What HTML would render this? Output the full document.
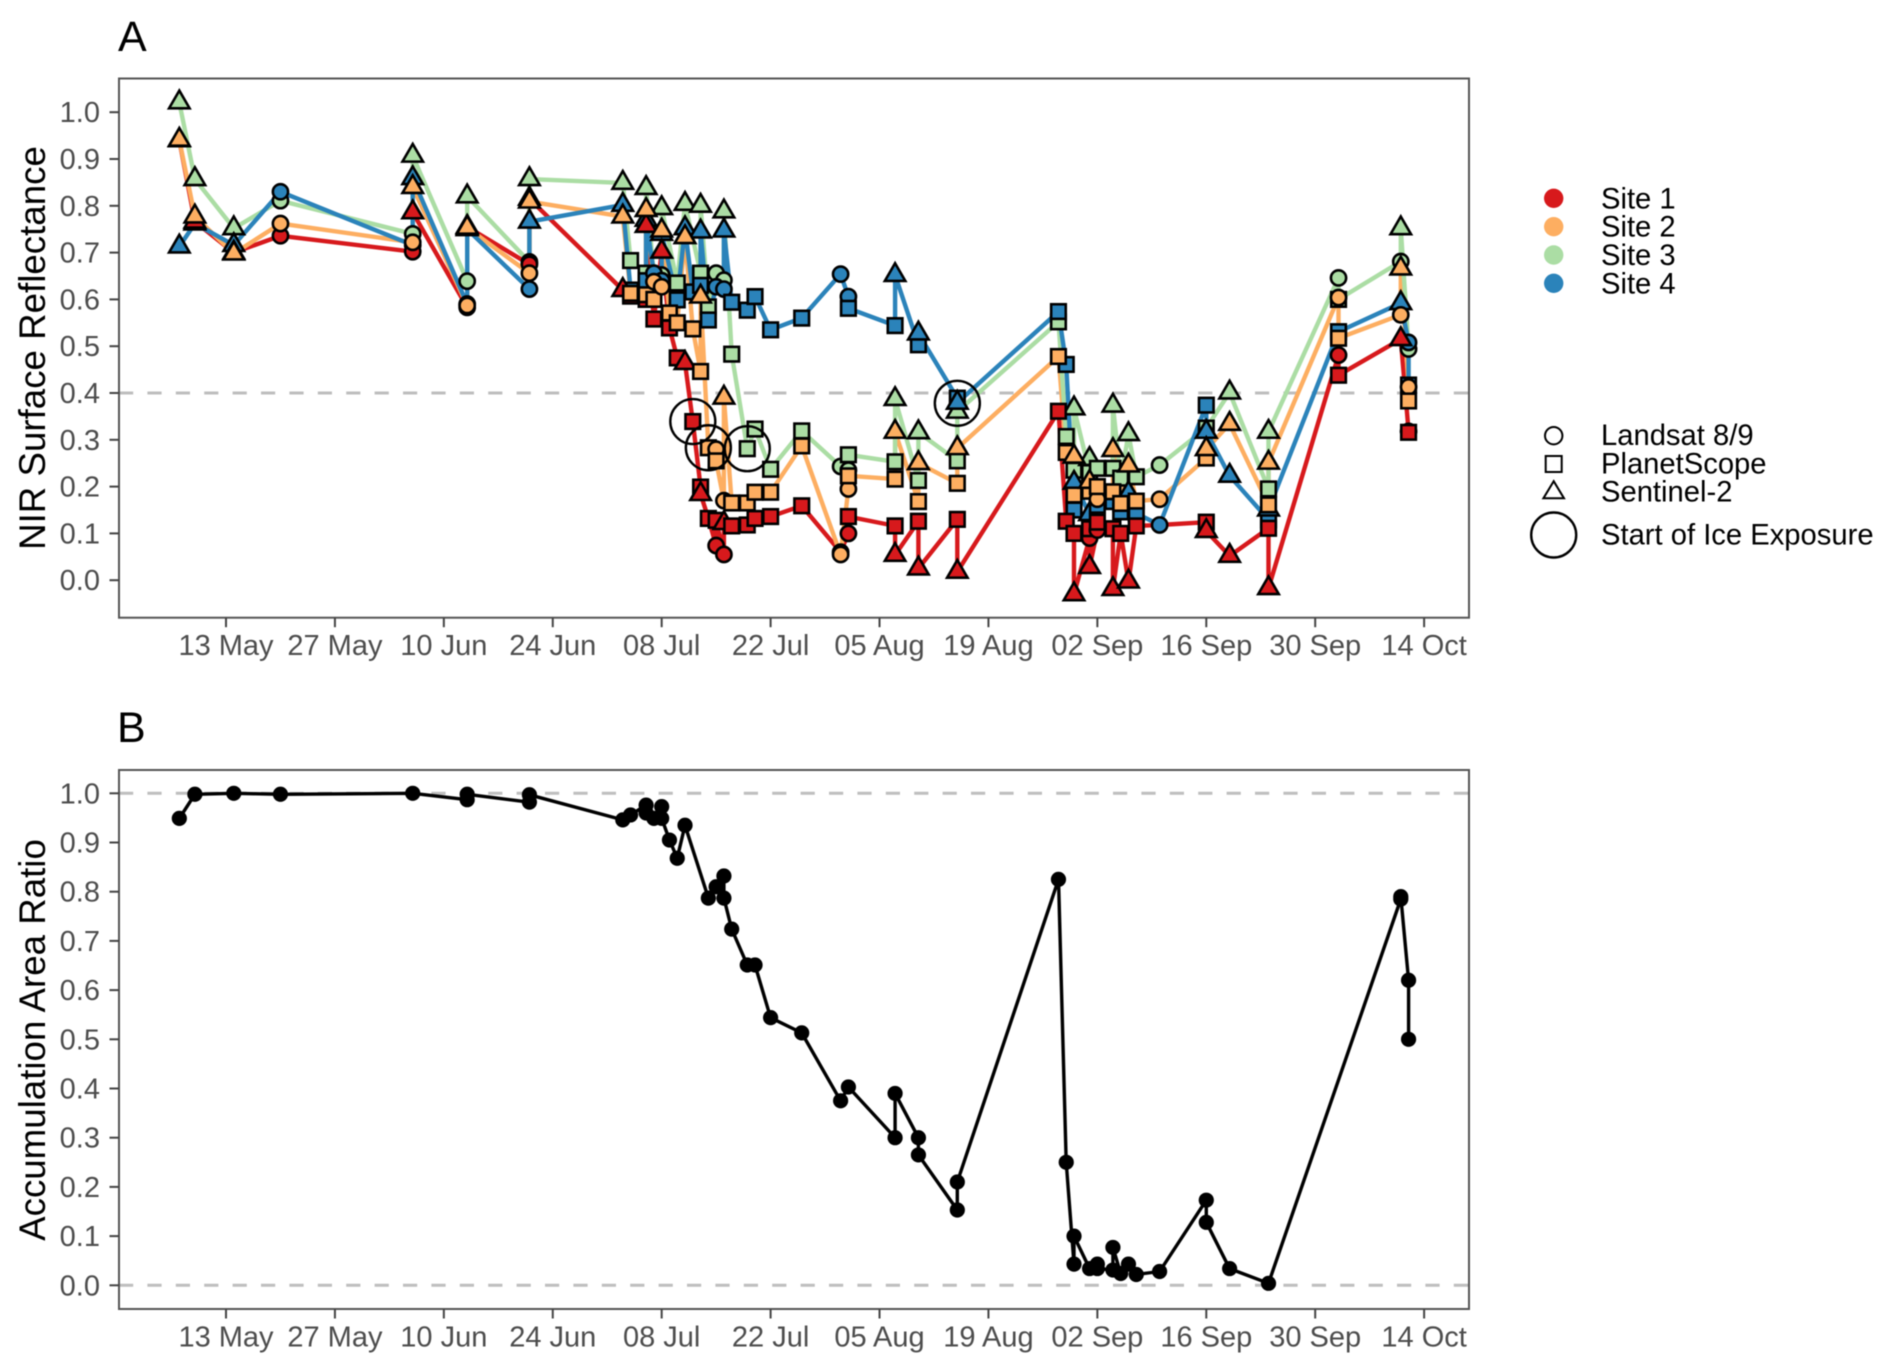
<!DOCTYPE html>
<html lang="en">
<head>
<meta charset="utf-8">
<title>NIR Surface Reflectance and Accumulation Area Ratio</title>
<style>
html,body{margin:0;padding:0;background:#fff;}
svg{display:block;font-family:"Liberation Sans",Arial,sans-serif;filter:blur(0.4px);}
.tick{font-size:29px;fill:#4d4d4d;}
.axis-title{font-size:36.7px;fill:#000;}
.tag{font-size:43px;fill:#000;}
.legend{font-size:29.2px;fill:#000;}
</style>
</head>
<body>
<svg id="chart" xmlns="http://www.w3.org/2000/svg" width="1892" height="1372" viewBox="0 0 1892 1372">
  <rect x="0" y="0" width="1892" height="1372" fill="#fff"/>
  <text class="tag" x="118" y="51">A</text>
  <text class="tag" x="117" y="742">B</text>
  <text class="axis-title" transform="translate(45,348) rotate(-90)" text-anchor="middle">NIR Surface Reflectance</text>
  <text class="axis-title" transform="translate(45,1040) rotate(-90)" text-anchor="middle">Accumulation Area Ratio</text>
  <g id="panelA"></g>
  <g id="panelB"></g>
  <g>
    <g><circle cx="1553.7" cy="198.3" r="9.7" fill="#D7191C"/><text class="legend" x="1601" y="208.3">Site 1</text></g>
    <g><circle cx="1553.7" cy="226.7" r="9.7" fill="#FDAE61"/><text class="legend" x="1601" y="236.7">Site 2</text></g>
    <g><circle cx="1553.7" cy="255" r="9.7" fill="#ABDDA4"/><text class="legend" x="1601" y="265">Site 3</text></g>
    <g><circle cx="1553.7" cy="283.3" r="9.7" fill="#2B83BA"/><text class="legend" x="1601" y="293.3">Site 4</text></g>
  </g>
  <g>
    <g><circle cx="1553.7" cy="435.7" r="8.7" fill="none" stroke="#000" stroke-width="2"/><text class="legend" x="1601" y="445">Landsat 8/9</text></g>
    <g><rect x="1545.7" y="456" width="16" height="16" fill="none" stroke="#000" stroke-width="2"/><text class="legend" x="1601" y="473.3">PlanetScope</text></g>
    <g><path d="M1553.7 481.2 L1564 498.3 L1543.4 498.3 Z" fill="none" stroke="#000" stroke-width="2"/><text class="legend" x="1601" y="501.7">Sentinel-2</text></g>
    <g><circle cx="1553.7" cy="535" r="22.5" fill="none" stroke="#000" stroke-width="2.4"/><text class="legend" x="1601" y="544.3">Start of Ice Exposure</text></g>
  </g>
</svg>
<script>
// Days are counted from 13 May. Sensors: L Landsat 8/9, P PlanetScope, S Sentinel-2,
// H = Landsat observation fully hidden beneath another marker (line vertex only).
const tickDays = [0,14,28,42,56,70,84,98,112,126,140,154];
const tickLabels = ["13 May","27 May","10 Jun","24 Jun","08 Jul","22 Jul","05 Aug","19 Aug","02 Sep","16 Sep","30 Sep","14 Oct"];
const yTicks = [0,0.1,0.2,0.3,0.4,0.5,0.6,0.7,0.8,0.9,1.0];

const site1Days = [-6,-4,1,7,24,24,31,31,39,39,51,52,54,54,55,56,57,58,59,60,61,61,62,63,63,64,64,65,67,68,70,74,79,80,80,86,86,89,89,94,94,107,108,109,109,111,111,111,112,112,114,114,115,116,117,120,126,126,129,134,134,143,143,151,152,152];
const site1Sensors = ["S","S","S","L","L","S","L","S","L","S","S","P","P","S","P","S","P","P","S","P","P","S","P","L","P","L","S","P","P","P","P","P","L","L","P","P","S","P","S","P","S","P","P","P","S","L","P","S","L","P","P","S","P","S","P","H","P","S","S","P","S","L","P","S","L","P"];
const site1Values = [0.94,0.766,0.70,0.736,0.702,0.786,0.583,0.755,0.675,0.815,0.62,0.607,0.60,0.757,0.558,0.702,0.539,0.475,0.464,0.339,0.199,0.184,0.132,0.074,0.128,0.055,0.122,0.116,0.118,0.132,0.136,0.159,0.06,0.10,0.136,0.116,0.054,0.126,0.025,0.13,0.018,0.361,0.126,0.10,-0.03,0.09,0.11,0.028,0.107,0.124,0.11,-0.019,0.10,-0.003,0.116,0.118,0.124,0.105,0.052,0.111,-0.017,0.481,0.438,0.515,0.318,0.316];

const site2Days = [-6,-4,1,7,24,24,31,31,39,39,51,52,54,54,55,55,56,56,57,58,59,60,61,61,62,63,63,64,64,65,67,68,70,74,79,80,80,86,86,89,89,94,94,107,108,109,109,111,111,112,112,114,114,115,116,117,120,126,126,129,134,134,143,143,151,151,152,152];
const site2Sensors = ["S","S","S","L","L","S","L","S","L","S","S","P","P","S","L","P","L","S","P","P","S","P","P","S","P","L","P","L","S","P","P","P","P","P","L","L","P","P","S","P","S","P","S","P","P","P","S","P","S","L","P","P","S","P","S","P","L","P","S","S","P","S","L","P","L","S","L","P"];
const site2Values = [0.941,0.777,0.698,0.762,0.722,0.84,0.587,0.753,0.656,0.809,0.777,0.613,0.61,0.791,0.638,0.60,0.627,0.747,0.571,0.55,0.733,0.537,0.446,0.606,0.283,0.28,0.255,0.17,0.39,0.165,0.165,0.188,0.188,0.287,0.055,0.195,0.223,0.216,0.317,0.168,0.25,0.207,0.282,0.478,0.273,0.182,0.264,0.19,0.21,0.173,0.20,0.189,0.278,0.164,0.245,0.169,0.173,0.261,0.28,0.334,0.161,0.251,0.604,0.517,0.567,0.666,0.413,0.383];

const site3Days = [-6,-4,1,7,24,24,31,31,39,39,51,52,54,54,55,56,56,58,59,61,61,62,63,64,64,65,67,68,70,74,79,80,80,86,86,89,89,94,94,107,108,109,109,111,111,112,114,114,115,116,117,120,126,129,134,134,143,143,151,151,152];
const site3Sensors = ["S","S","S","L","L","S","L","S","L","S","S","P","P","S","L","L","S","P","S","P","S","P","L","L","S","P","P","P","P","P","L","L","P","P","S","P","S","P","S","P","P","P","S","P","S","P","P","S","P","S","P","L","P","S","P","S","L","P","L","S","L"];
const site3Values = [1.021,0.857,0.752,0.811,0.74,0.907,0.639,0.82,0.68,0.857,0.849,0.683,0.656,0.838,0.65,0.652,0.795,0.635,0.804,0.656,0.80,0.584,0.656,0.641,0.788,0.483,0.281,0.323,0.237,0.319,0.243,0.235,0.268,0.253,0.387,0.213,0.316,0.255,0.36,0.552,0.307,0.235,0.367,0.23,0.259,0.239,0.239,0.373,0.218,0.312,0.221,0.246,0.325,0.401,0.195,0.317,0.646,0.60,0.681,0.752,0.494];

const site4Days = [-6,-4,1,7,24,24,31,31,39,39,51,52,54,54,55,56,56,58,59,60,61,61,62,63,64,64,65,67,68,70,74,79,80,80,86,86,89,89,94,94,107,108,109,109,111,112,114,115,116,117,120,126,126,129,134,134,143,151,152,152];
const site4Sensors = ["S","S","S","L","L","S","L","S","L","S","S","P","P","S","L","L","S","P","S","P","P","S","P","L","L","S","P","P","P","P","P","L","L","P","P","S","P","S","P","S","P","P","P","S","S","P","P","P","S","P","L","P","S","S","P","S","P","S","L","P"];
const site4Values = [0.713,0.762,0.716,0.83,0.716,0.859,0.59,0.75,0.622,0.766,0.802,0.62,0.64,0.77,0.656,0.64,0.74,0.599,0.752,0.616,0.63,0.745,0.556,0.627,0.622,0.747,0.594,0.577,0.606,0.535,0.56,0.654,0.606,0.581,0.544,0.652,0.503,0.527,0.389,0.379,0.574,0.461,0.15,0.208,0.141,0.16,0.168,0.146,0.186,0.143,0.118,0.374,0.317,0.223,0.129,0.151,0.531,0.592,0.508,0.417];

const iceDays = [60,62,67,94];
const iceValues = [0.339,0.283,0.281,0.378];

const aarDays = [-6,-4,1,7,24,31,31,39,39,51,52,54,54,55,56,56,57,58,59,62,63,64,64,65,67,68,70,74,79,80,86,86,89,89,94,94,107,108,109,109,111,112,112,114,114,115,116,117,120,126,126,129,134,151,151,152,152];
const aarValues = [0.949,0.998,1.0,0.998,1.0,0.987,0.998,0.982,0.997,0.946,0.956,0.976,0.96,0.949,0.973,0.949,0.905,0.868,0.935,0.787,0.81,0.832,0.787,0.724,0.651,0.651,0.544,0.513,0.375,0.403,0.30,0.39,0.30,0.265,0.153,0.21,0.825,0.25,0.043,0.10,0.034,0.043,0.034,0.031,0.077,0.024,0.043,0.022,0.028,0.173,0.128,0.034,0.004,0.785,0.79,0.62,0.50];

const SVGNS = "http://www.w3.org/2000/svg";
const PANEL_LEFT = 119, PANEL_RIGHT = 1469;
function xScale(day){ return 226 + 7.78 * day; }
function yScaleA(v){ return 580.2 - 468 * v; }
function yScaleB(v){ return 1285.3 - 492 * v; }

function make(tag, attrs, parent){
  const n = document.createElementNS(SVGNS, tag);
  for (const k in attrs) n.setAttribute(k, attrs[k]);
  parent.appendChild(n);
  return n;
}

function drawFrame(group, top, bottom, yScale, prefix){
  const dashes = prefix === "panel-a" ? [0.4] : [1, 0];
  dashes.forEach(function(v){
    const dash = make("line", {x1:PANEL_LEFT, x2:PANEL_RIGHT, y1:yScale(v), y2:yScale(v), stroke:"#bebebe", "stroke-width":3, "stroke-dasharray":"14.2 14.2"}, group);
    
    
  });
  const frame = make("rect", {x:PANEL_LEFT, y:top, width:PANEL_RIGHT-PANEL_LEFT, height:bottom-top, fill:"none", stroke:"#555", "stroke-width":2}, group);
  
  
  tickDays.forEach(function(d, i){
    const t = make("line", {x1:xScale(d), x2:xScale(d), y1:bottom, y2:bottom+9.5, stroke:"#444", "stroke-width":2}, group);
    
    
    const lab = make("text", {x:xScale(d), y:bottom+37.5, "text-anchor":"middle", "class":"tick"}, group);
    
    
    lab.textContent = tickLabels[i];
  });
  yTicks.forEach(function(v){
    const t = make("line", {x1:PANEL_LEFT-9.5, x2:PANEL_LEFT, y1:yScale(v), y2:yScale(v), stroke:"#444", "stroke-width":2}, group);
    
    
    const lab = make("text", {x:PANEL_LEFT-19, y:yScale(v)+10, "text-anchor":"end", "class":"tick"}, group);
    
    
    lab.textContent = v.toFixed(1);
  });
}

function drawMarker(parent, sensor, day, value, color){
  const cx = xScale(day), cy = yScaleA(value);
  const style = {fill:color, stroke:"#000", "stroke-width":2.6};
  let m;
  if (sensor === "L") {
    m = make("circle", Object.assign({cx:cx, cy:cy, r:7.6}, style), parent);
    
  } else if (sensor === "P") {
    m = make("rect", Object.assign({x:cx-7.3, y:cy-7.3, width:14.6, height:14.6}, style), parent);
    
  } else if (sensor === "S") {
    m = make("path", Object.assign({d:"M"+cx+" "+(cy-11.8)+" L"+(cx+10.25)+" "+(cy+5.9)+" L"+(cx-10.25)+" "+(cy+5.9)+" Z"}, style), parent);
    
  } else {
    return;
  }
  
}

const sites = [
  {name:"site-1", color:"#D7191C", days:site1Days, sensors:site1Sensors, values:site1Values},
  {name:"site-2", color:"#FDAE61", days:site2Days, sensors:site2Sensors, values:site2Values},
  {name:"site-3", color:"#ABDDA4", days:site3Days, sensors:site3Sensors, values:site3Values},
  {name:"site-4", color:"#2B83BA", days:site4Days, sensors:site4Sensors, values:site4Values}
];

const panelA = document.getElementById("panelA");
const panelB = document.getElementById("panelB");
drawFrame(panelA, 78.5, 617.7, yScaleA, "panel-a");
drawFrame(panelB, 770, 1309, yScaleB, "panel-b");

sites.forEach(function(s){
  const pts = s.days.map(function(d, i){ return xScale(d).toFixed(1) + "," + yScaleA(s.values[i]).toFixed(1); }).join(" ");
  const line = make("polyline", {points:pts, fill:"none", stroke:s.color, "stroke-width":4.4, "stroke-linejoin":"round"}, panelA);
  
  
});

[2,3,0,1].forEach(function(idx){
  const s = sites[idx];
  const g = make("g", {}, panelA);
  
  
  s.days.forEach(function(d, i){ drawMarker(g, s.sensors[i], d, s.values[i], s.color); });
});

iceDays.forEach(function(d, i){
  const c = make("circle", {cx:xScale(d), cy:yScaleA(iceValues[i]), r:22.5, fill:"none", stroke:"#000", "stroke-width":2.4}, panelA);
  
  
});

const aarPts = aarDays.map(function(d, i){ return xScale(d).toFixed(1) + "," + yScaleB(aarValues[i]).toFixed(1); }).join(" ");
const aarLine = make("polyline", {points:aarPts, fill:"none", stroke:"#000", "stroke-width":3.4, "stroke-linejoin":"round"}, panelB);


aarDays.forEach(function(d, i){
  const c = make("circle", {cx:xScale(d), cy:yScaleB(aarValues[i]), r:7.6, fill:"#000"}, panelB);
  
  
});
</script>
</body>
</html>
